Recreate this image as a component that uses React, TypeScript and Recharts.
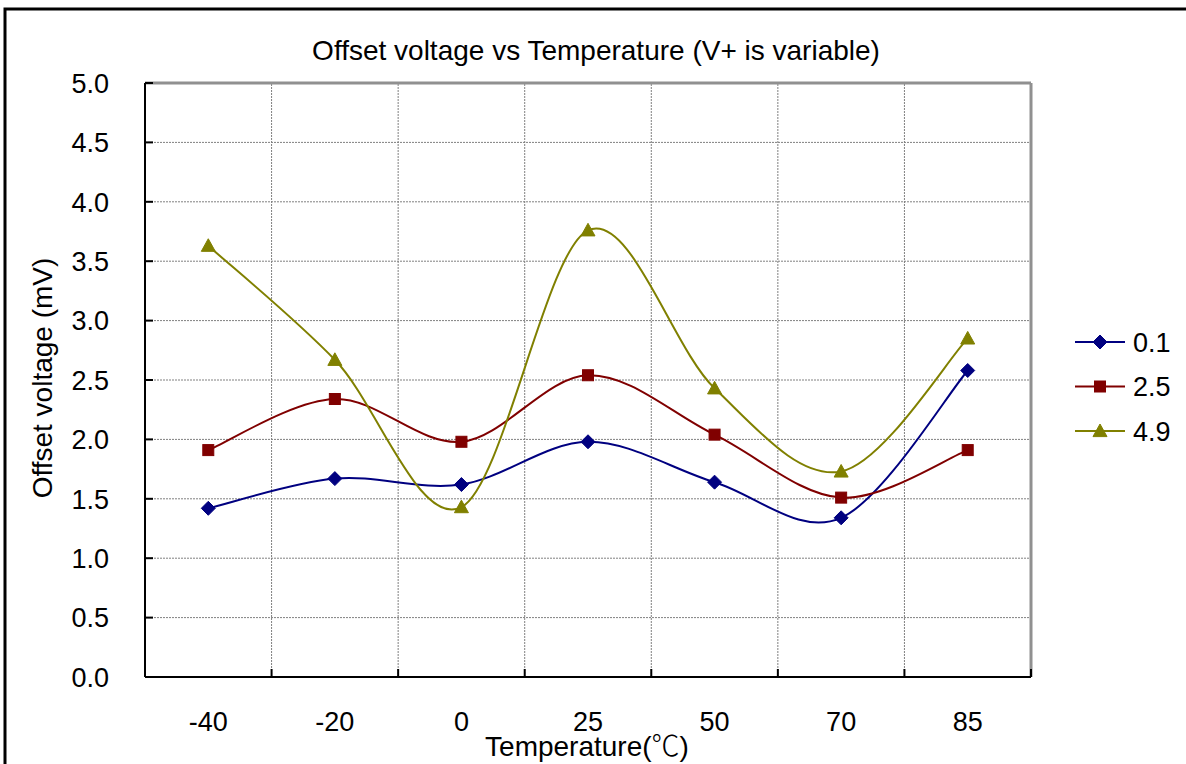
import React from 'react';
import { LineChart, Line, XAxis, YAxis, CartesianGrid, ReferenceLine } from 'recharts';

const categories = ['-40', '-20', '0', '25', '50', '70', '85'];
const series01 = [1.42, 1.67, 1.62, 1.98, 1.64, 1.34, 2.58];
const series25 = [1.91, 2.34, 1.98, 2.54, 2.04, 1.51, 1.91];
const series49 = [3.63, 2.67, 1.43, 3.76, 2.43, 1.73, 2.85];
const yTicks = [0, 0.5, 1, 1.5, 2, 2.5, 3, 3.5, 4, 4.5, 5];
const seriesNames = ['0.1', '2.5', '4.9'];
const colors = ['#000080', '#800000', '#808000'];
const markers = ['diamond', 'square', 'triangle'];

const data = categories.map((c, i) => ({
  x: i + 0.5,
  cat: c,
  s0: series01[i],
  s1: series25[i],
  s2: series49[i],
}));

const xTicks: number[] = [];
for (let i = 0; i <= categories.length * 2; i++) xTicks.push(i / 2);
const boundaries = categories.slice(1).map((_, i) => i + 1);

const FONT = '"Liberation Sans", Arial, "Noto Sans CJK SC", sans-serif';
const CJK = '"Noto Sans CJK SC", "Liberation Sans", sans-serif';

// Excel-like smoothing curve (Catmull-Rom style bezier)
function excelCurve(context: any) {
  let pts: number[][] = [];
  return {
    areaStart() {},
    areaEnd() {},
    lineStart() {
      pts = [];
    },
    point(x: number, y: number) {
      pts.push([+x, +y]);
    },
    lineEnd() {
      if (!pts.length) return;
      context.moveTo(pts[0][0], pts[0][1]);
      for (let i = 0; i < pts.length - 1; i++) {
        const p0 = pts[i - 1] || pts[i];
        const p1 = pts[i];
        const p2 = pts[i + 1];
        const p3 = pts[i + 2] || pts[i + 1];
        context.bezierCurveTo(
          p1[0] + (p2[0] - p0[0]) / 6,
          p1[1] + (p2[1] - p0[1]) / 6,
          p2[0] - (p3[0] - p1[0]) / 6,
          p2[1] - (p3[1] - p1[1]) / 6,
          p2[0],
          p2[1]
        );
      }
    },
  };
}

function Marker({ cx, cy, kind, color }: any) {
  if (cx == null || cy == null) return null;
  if (kind === 'diamond') {
    const r = 7;
    return <path d={`M${cx},${cy - r}L${cx + r},${cy}L${cx},${cy + r}L${cx - r},${cy}Z`} fill={color} stroke={color} />;
  }
  if (kind === 'square') {
    const r = 5.5;
    return <rect x={cx - r} y={cy - r} width={2 * r} height={2 * r} fill={color} stroke={color} />;
  }
  const r = 7;
  return <path d={`M${cx},${cy - r}L${cx + r},${cy + r * 0.8}L${cx - r},${cy + r * 0.8}Z`} fill={color} stroke={color} />;
}

const XTick = (props: any) => {
  const { x, y, payload } = props;
  const v = payload.value;
  if (Number.isInteger(v)) {
    return <line x1={x} y1={y} x2={x} y2={y - 8} stroke="#000" strokeWidth={2} />;
  }
  const idx = Math.floor(v);
  return (
    <text x={x} y={y + 54} textAnchor="middle" fontSize={27} fontFamily={FONT} fill="#000">
      {categories[idx]}
    </text>
  );
};

const YTick = (props: any) => {
  const { x, y, payload } = props;
  return (
    <g>
      <line x1={x} y1={y} x2={x + 8} y2={y} stroke="#000" strokeWidth={2} />
      <text x={x - 36} y={y} dy="0.36em" textAnchor="end" fontSize={27} fontFamily={FONT} fill="#000">
        {payload.value.toFixed(1)}
      </text>
    </g>
  );
};

export default function App() {
  return (
    <div style={{ position: 'absolute', left: 0, top: 0, width: 1186, height: 764, overflow: 'hidden', background: '#fff' }}>
      <LineChart width={1186} height={764} data={data} margin={{ top: 83, right: 155, bottom: 47, left: 85 }}>
        <CartesianGrid vertical={false} stroke="#808080" strokeDasharray="2 1" />
        {boundaries.map((b) => (
          <ReferenceLine key={b} x={b} stroke="#808080" strokeDasharray="2 1" />
        ))}
        <ReferenceLine y={5} stroke="#909090" strokeWidth={3} />
        <ReferenceLine x={7} stroke="#909090" strokeWidth={3} />
        <XAxis
          dataKey="x"
          type="number"
          domain={[0, 7]}
          ticks={xTicks}
          interval={0}
          tickSize={0}
          tickMargin={0}
          tickLine={false}
          axisLine={{ stroke: '#000', strokeWidth: 2 }}
          tick={<XTick />}
          height={40}
        />
        <YAxis
          type="number"
          domain={[0, 5]}
          ticks={yTicks}
          interval={0}
          tickSize={0}
          tickMargin={0}
          tickLine={false}
          axisLine={{ stroke: '#000', strokeWidth: 2 }}
          tick={<YTick />}
          width={60}
        />
        {['s0', 's1', 's2'].map((k, i) => (
          <Line
            key={k}
            dataKey={k}
            name={seriesNames[i]}
            type={excelCurve as any}
            stroke={colors[i]}
            strokeWidth={2}
            isAnimationActive={false}
            dot={(p: any) => <Marker key={`${k}-${p.index}`} cx={p.cx} cy={p.cy} kind={markers[i]} color={colors[i]} />}
            activeDot={false}
          />
        ))}
      </LineChart>
      <svg width={1186} height={764} style={{ position: 'absolute', left: 0, top: 0, pointerEvents: 'none' }}>
        <path d="M5,1000 L5,9 L1200,9" fill="none" stroke="#000" strokeWidth={3} />
        <text x={596} y={60} textAnchor="middle" fontSize={28} fontFamily={FONT} fill="#000">
          Offset voltage vs Temperature (V+ is variable)
        </text>
        <text x={587} y={756} textAnchor="middle" fontSize={28} fontFamily={FONT} fill="#000">
          Temperature(<tspan fontFamily={CJK} fontWeight={300}>℃</tspan>)
        </text>
        <text
          x={0}
          y={0}
          transform="translate(52,378) rotate(-90)"
          textAnchor="middle"
          fontSize={28}
          fontFamily={FONT}
          fill="#000"
        >
          Offset voltage (mV)
        </text>
        {seriesNames.map((n, i) => {
          const y = 342 + i * 44.5;
          return (
            <g key={n}>
              <line x1={1075} y1={y} x2={1125} y2={y} stroke={colors[i]} strokeWidth={2} />
              <Marker cx={1100} cy={y} kind={markers[i]} color={colors[i]} />
              <text x={1133} y={y} dy="0.36em" fontSize={27} fontFamily={FONT} fill="#000">
                {n}
              </text>
            </g>
          );
        })}
      </svg>
    </div>
  );
}
